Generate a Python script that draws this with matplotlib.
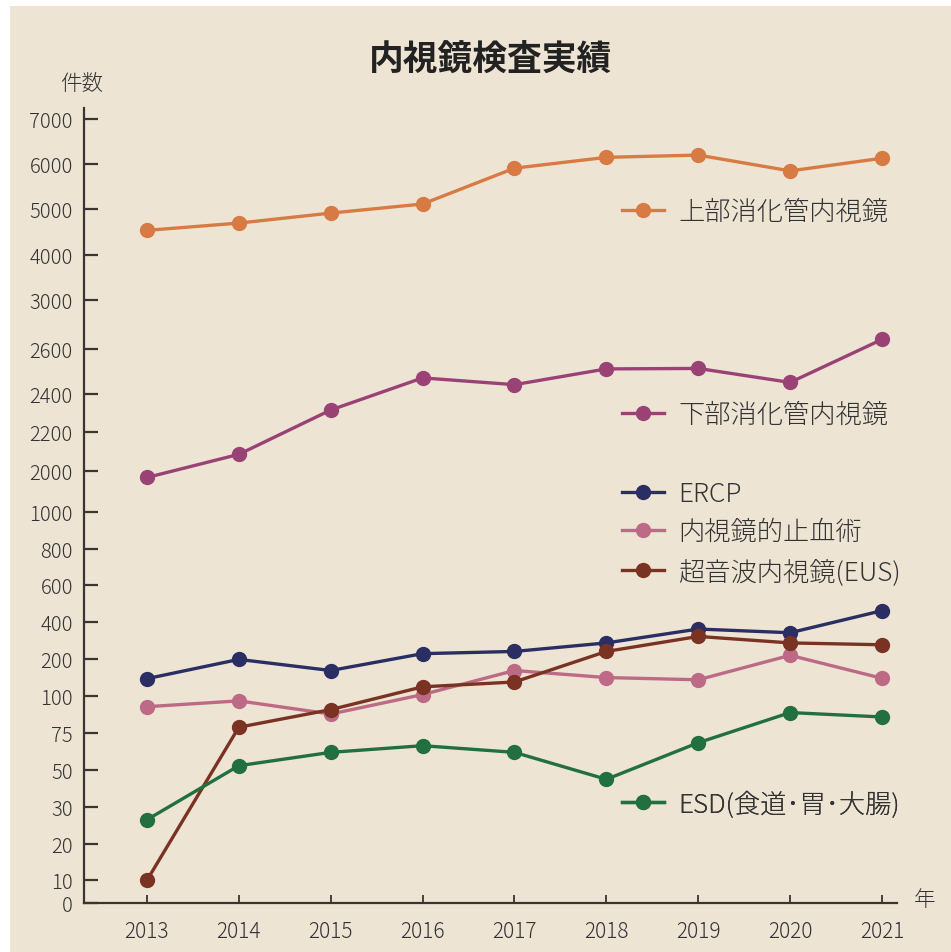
import numpy as np
import matplotlib
matplotlib.use('Agg')
import matplotlib.pyplot as plt
from matplotlib.patches import Rectangle

plt.rcParams['font.family'] = ['Noto Sans CJK JP', 'DejaVu Sans']

years = [2013, 2014, 2015, 2016, 2017, 2018, 2019, 2020, 2021]

upper_gi = [4540, 4700, 4920, 5120, 5910, 6150, 6200, 5850, 6130]
lower_gi = [1835, 2085, 2315, 2470, 2440, 2510, 2512, 2450, 2675]
ercp = [148, 200, 170, 231, 243, 289, 364, 344, 463]
hemostasis = [93, 97, 88, 105, 170, 151, 145, 222, 149]
eus = [10, 79, 91, 126, 139, 243, 324, 289, 279]
esd = [26.5, 53, 62, 66.5, 62, 45, 68.5, 89, 86]

labels = ['上部消化管内視鏡', '下部消化管内視鏡', 'ERCP', '内視鏡的止血術',
          '超音波内視鏡(EUS)', 'ESD(食道･胃･大腸)']

# uneven y axis: every tick label gets its own slot
ytick_vals = [0, 10, 20, 30, 50, 75, 100, 200, 400, 600, 800, 1000,
              2000, 2200, 2400, 2600, 3000, 4000, 5000, 6000, 7000, 8000]
ytick_pos = [0, 22.7, 59.3, 96, 132.7, 169.7, 206.3, 243.3, 280.3, 317.3, 354, 391,
             431.7, 470.3, 508.7, 553.7, 602.7, 647.3, 692.7, 738, 783, 828]

def fwd(v):
    return np.interp(v, ytick_vals, ytick_pos)

def inv(p):
    return np.interp(p, ytick_pos, ytick_vals)

colors = ['#d87a44', '#9a4276', '#2b2e62', '#bd6a86', '#7a3223', '#22703f']
series = [upper_gi, lower_gi, ercp, hemostasis, eus, esd]

W, H = 951, 953
fig = plt.figure(figsize=(W / 100, H / 100), dpi=100)
fig.patch.set_facecolor('white')
bg = Rectangle((10 / W, 0), 1, 1 - 7 / H, transform=fig.transFigure,
               facecolor='#ede4d4', edgecolor='none', zorder=-10)
fig.add_artist(bg)

ax = fig.add_axes([84 / W, 49 / H, (897 - 84) / W, (904 - 109) / H])
ax.set_facecolor('none')
ax.set_yscale('function', functions=(fwd, inv))
ax.set_ylim(0, 7245)
ax.set_xlim(2012.315, 2021.163)

lines = []
for vals, c in zip(series, colors):
    ln, = ax.plot(years, vals, color=c, lw=2.4, marker='o', ms=10, zorder=3)
    lines.append(ln)

ax.set_yticks(ytick_vals[:-1])
ax.set_yticklabels([str(v) for v in ytick_vals[:-1]])
ax.set_xticks(years)
ax.set_xticklabels([str(y) for y in years])
ax.minorticks_off()

for s in ['top', 'right']:
    ax.spines[s].set_visible(False)
for s in ['left', 'bottom']:
    ax.spines[s].set_color('#3a3530')
    ax.spines[s].set_linewidth(1.6)

ax.tick_params(axis='y', direction='in', length=10, width=1.6, color='#3a3530',
               labelsize=14.5, labelcolor='#333333', pad=8)
ax.tick_params(axis='x', direction='in', length=6, width=1.3, color='#3a3530',
               labelsize=15, labelcolor='#333333', pad=12)
for t in ax.get_xticklabels() + ax.get_yticklabels():
    t.set_fontweight('light')

fig.text(491 / W, 1 - 59 / H, '内視鏡検査実績', ha='center', va='center',
         fontsize=25, fontweight='bold', color='#222222')
fig.text(82 / W, 1 - 84 / H, '件数', ha='center', va='center', fontsize=15.5,
         color='#333333', fontweight='light')
fig.text(925 / W, 1 - 900 / H, '年', ha='center', va='center', fontsize=15.5,
         color='#333333', fontweight='light')

leg_y = [213, 416, 495, 533, 573, 805]
for ln, lab, y in zip(lines, labels, leg_y):
    lg = ax.legend([ln], [lab], loc='center left', bbox_to_anchor=(622 / W, 1 - y / H),
                   bbox_transform=fig.transFigure, frameon=False,
                   prop={'size': 18.9, 'weight': 'light'},
                   handlelength=1.6, handletextpad=0.55, borderpad=0, borderaxespad=0,
                   labelcolor='#333333')
    ax.add_artist(lg)

fig.savefig('out.png', dpi=100, facecolor=fig.get_facecolor())
